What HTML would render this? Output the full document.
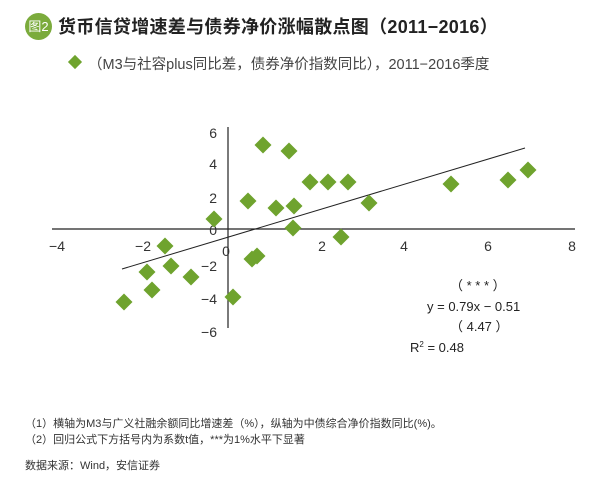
<!DOCTYPE html><html><head><meta charset="utf-8"><style>
body{margin:0;width:615px;height:480px;background:#fff;position:relative;font-family:"Liberation Sans","Noto Sans CJK SC",sans-serif;overflow:hidden}
.t{position:absolute;white-space:nowrap}
</style></head><body>
<div style="position:absolute;left:25px;top:13px;width:27px;height:27px;border-radius:50%;background:#7bab3c;color:#fff;font-size:13px;line-height:27px;text-align:center">图2</div>
<div class="t" style="left:58px;top:13px;font-size:18px;font-weight:bold;color:#222;letter-spacing:0.3px">货币信贷增速差与债券净价涨幅散点图（2011−2016）</div>
<div style="position:absolute;left:70px;top:57px;width:10px;height:10px;background:#6fa32e;transform:rotate(45deg)"></div>
<div class="t" style="left:88px;top:53px;font-size:14.5px;color:#444">（M3与社容plus同比差，债券净价指数同比），2011−2016季度</div>
<svg width="615" height="480" style="position:absolute;left:0;top:0" font-family="Liberation Sans, sans-serif">
<line x1="52" y1="229" x2="575" y2="229" stroke="#222" stroke-width="1.2"/>
<line x1="228" y1="127" x2="228" y2="328" stroke="#222" stroke-width="1.2"/>
<g font-size="14" fill="#333" text-anchor="middle">
<text x="57" y="251">−4</text><text x="143" y="251">−2</text><text x="226" y="256">0</text><text x="322" y="251">2</text><text x="404" y="251">4</text><text x="488" y="251">6</text><text x="572" y="251">8</text>
</g>
<g font-size="14" fill="#333" text-anchor="end">
<text x="217" y="138">6</text><text x="217" y="169">4</text><text x="217" y="203">2</text><text x="217" y="235">0</text><text x="217" y="271">−2</text><text x="217" y="304">−4</text><text x="217" y="337">−6</text>
</g>
<line x1="122" y1="269" x2="525" y2="148" stroke="#222" stroke-width="1"/>
<g font-size="13" fill="#222">
<text x="450" y="290">（ * * * ）</text>
<text x="427" y="311">y = 0.79x − 0.51</text>
<text x="450" y="331">（ 4.47 ）</text>
<text x="410" y="352">R<tspan font-size="8" dy="-5">2</tspan><tspan dy="5"> = 0.48</tspan></text>
</g>
<g fill="#6fa32e">
<rect x="-6" y="-6" width="12" height="12" transform="translate(124,302) rotate(45)"/>
<rect x="-6" y="-6" width="12" height="12" transform="translate(147,272) rotate(45)"/>
<rect x="-6" y="-6" width="12" height="12" transform="translate(152,290) rotate(45)"/>
<rect x="-6" y="-6" width="12" height="12" transform="translate(165,246) rotate(45)"/>
<rect x="-6" y="-6" width="12" height="12" transform="translate(171,266) rotate(45)"/>
<rect x="-6" y="-6" width="12" height="12" transform="translate(191,277) rotate(45)"/>
<rect x="-6" y="-6" width="12" height="12" transform="translate(214,219) rotate(45)"/>
<rect x="-6" y="-6" width="12" height="12" transform="translate(233,297) rotate(45)"/>
<rect x="-6" y="-6" width="12" height="12" transform="translate(248,201) rotate(45)"/>
<rect x="-6" y="-6" width="12" height="12" transform="translate(252,259) rotate(45)"/>
<rect x="-6" y="-6" width="12" height="12" transform="translate(257,256) rotate(45)"/>
<rect x="-6" y="-6" width="12" height="12" transform="translate(263,145) rotate(45)"/>
<rect x="-6" y="-6" width="12" height="12" transform="translate(276,208) rotate(45)"/>
<rect x="-6" y="-6" width="12" height="12" transform="translate(289,151) rotate(45)"/>
<rect x="-6" y="-6" width="12" height="12" transform="translate(294,206) rotate(45)"/>
<rect x="-6" y="-6" width="12" height="12" transform="translate(293,228) rotate(45)"/>
<rect x="-6" y="-6" width="12" height="12" transform="translate(310,182) rotate(45)"/>
<rect x="-6" y="-6" width="12" height="12" transform="translate(328,182) rotate(45)"/>
<rect x="-6" y="-6" width="12" height="12" transform="translate(341,237) rotate(45)"/>
<rect x="-6" y="-6" width="12" height="12" transform="translate(348,182) rotate(45)"/>
<rect x="-6" y="-6" width="12" height="12" transform="translate(369,203) rotate(45)"/>
<rect x="-6" y="-6" width="12" height="12" transform="translate(451,184) rotate(45)"/>
<rect x="-6" y="-6" width="12" height="12" transform="translate(508,180) rotate(45)"/>
<rect x="-6" y="-6" width="12" height="12" transform="translate(528,170) rotate(45)"/>
</g></svg>
<div class="t" style="left:25px;top:415px;font-size:11px;color:#333">（1）横轴为M3与广义社融余额同比增速差（%），纵轴为中债综合净价指数同比(%)。</div>
<div class="t" style="left:25px;top:431px;font-size:11px;color:#333">（2）回归公式下方括号内为系数t值，***为1%水平下显著</div>
<div class="t" style="left:25px;top:457px;font-size:11px;color:#333">数据来源：Wind，安信证券</div>
</body></html>
